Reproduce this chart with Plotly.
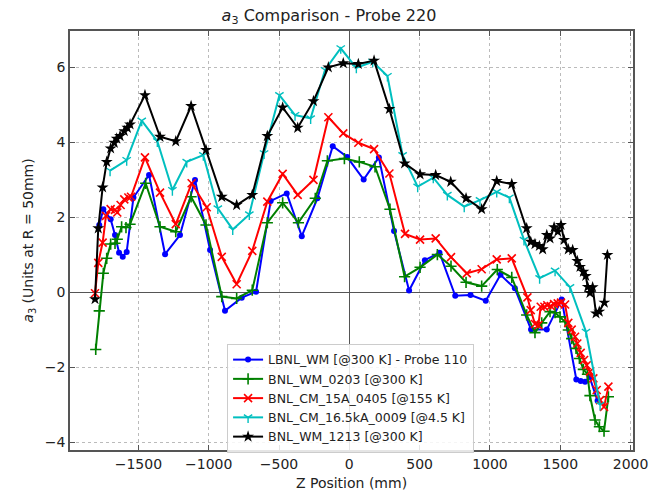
import plotly.graph_objects as go

# ---- data ----
blue_z = [-1778,-1749,-1697,-1666,-1637,-1611,-1583,-1535,-1424,-1310,-1204,-1097,-990,-884,-765,-663,-559,-445,-338,-227,-118,-15,102,210,318,425,537,641,753,862,970,1075,1177,1292,1404,1510,1614,1645,1676,1708,1765]
blue_a = [1.79,2.21,1.94,1.52,1.05,0.94,1.07,2.52,3.12,1.01,1.52,2.99,1.12,-0.50,-0.15,0.01,2.43,2.63,1.49,2.50,3.89,3.60,3.00,3.59,1.63,0.04,0.85,1.05,-0.10,-0.08,-0.23,0.46,0.10,-1.00,-1.00,-0.20,-2.33,-2.37,-2.39,-2.26,-2.90]

green_z = [-1803,-1778,-1749,-1725,-1697,-1666,-1650,-1619,-1588,-1559,-1448,-1346,-1234,-1125,-1019,-907,-801,-690,-583,-474,-362,-242,-156,-35,71,183,289,393,503,626,723,830,941,1052,1155,1261,1320,1368,1427,1463,1498,1534,1557,1581,1612,1636,1664,1693,1711,1747,1778,1811,1842]
green_a = [-1.53,-0.50,0.50,0.90,1.28,1.30,1.41,1.74,1.72,1.81,2.90,1.74,1.61,2.54,1.79,-0.12,-0.17,0.05,1.85,2.38,1.85,2.50,3.50,3.56,3.47,3.34,2.21,0.41,0.66,1.00,0.69,0.26,0.16,0.60,0.39,-0.61,-1.08,-0.82,-0.52,-0.55,-0.66,-0.79,-1.01,-1.24,-1.50,-1.77,-2.06,-2.19,-2.76,-3.41,-3.59,-3.71,-2.79]

red_z = [-1808,-1785,-1754,-1730,-1697,-1666,-1650,-1626,-1600,-1571,-1552,-1453,-1346,-1234,-1121,-1014,-907,-801,-690,-583,-474,-367,-255,-149,-43,64,176,285,396,503,614,723,835,941,1048,1155,1266,1290,1320,1344,1361,1387,1408,1432,1456,1482,1505,1534,1557,1581,1605,1621,1645,1669,1688,1711,1735,1759,1783,1811,1842]
red_a = [-0.03,0.78,1.32,2.03,2.21,2.19,2.12,2.32,2.47,2.52,2.54,3.59,2.65,1.81,2.90,2.26,0.94,0.21,1.10,2.41,3.15,2.59,2.99,4.66,4.23,3.98,3.81,3.16,1.55,1.40,1.43,0.93,0.50,0.61,0.87,0.90,-0.14,-0.48,-0.85,-0.88,-0.39,-0.39,-0.35,-0.37,-0.32,-0.30,-0.28,-0.33,-0.82,-1.00,-1.19,-1.37,-1.62,-1.81,-1.95,-2.12,-2.30,-2.61,-2.88,-3.06,-2.52]

cyan_z = [-1701,-1583,-1476,-1365,-1258,-1156,-1038,-935,-829,-711,-606,-497,-386,-275,-173,-61,50,166,271,379,486,597,697,817,929,1048,1138,1242,1353,1463,1569,1683,1783]
cyan_a = [3.24,3.52,4.57,4.02,2.72,3.47,3.65,2.23,1.67,2.07,3.70,5.25,4.72,4.63,5.92,6.50,5.98,6.14,5.76,3.65,2.81,3.05,2.59,2.28,2.45,2.67,2.52,1.39,0.37,0.57,0.13,-1.06,-3.01]

black_z = [-1808,-1785,-1754,-1725,-1697,-1671,-1654,-1630,-1600,-1578,-1559,-1453,-1346,-1234,-1125,-1019,-907,-801,-690,-583,-474,-367,-255,-149,-43,64,176,285,393,503,614,721,830,941,1048,1155,1261,1290,1320,1351,1375,1404,1427,1456,1482,1505,1527,1557,1588,1621,1640,1664,1681,1695,1711,1730,1754,1777,1813,1835]
black_a = [-0.19,1.70,2.79,3.47,3.83,3.98,4.09,4.16,4.29,4.38,4.47,5.25,4.14,4.02,4.96,3.79,2.54,2.32,2.59,4.16,4.92,4.38,5.09,5.99,6.10,6.08,6.17,4.88,3.43,3.14,3.12,2.94,2.50,2.21,2.96,2.88,1.70,1.34,1.28,1.23,1.14,1.52,1.43,1.73,1.61,1.79,1.39,1.14,1.12,0.83,0.67,0.54,0.43,0.14,-0.02,0.13,-0.57,-0.52,-0.28,0.99]

names = ["LBNL_WM [@300 K] - Probe 110", "BNL_WM_0203 [@300 K]", "BNL_CM_15A_0405 [@155 K]",
         "BNL_CM_16.5kA_0009 [@4.5 K]", "BNL_WM_1213 [@300 K]"]
x_ticks = [-1500, -1000, -500, 0, 500, 1000, 1500, 2000]
y_ticks = [-4, -2, 0, 2, 4, 6]

FONT = "DejaVu Sans"
fig = go.Figure()

series = [
    (blue_z, blue_a, "#0000ff", dict(symbol="circle", size=6, color="#0000ff")),
    (green_z, green_a, "#008000", dict(symbol="cross-thin", size=8, color="#008000",
                                        line=dict(width=1.6, color="#008000"))),
    (red_z, red_a, "#ff0000", dict(symbol="x-thin", size=8, color="#ff0000",
                                    line=dict(width=1.6, color="#ff0000"))),
    (cyan_z, cyan_a, "#00bfbf", dict(symbol="y-down", size=7, color="#00bfbf",
                                      line=dict(width=1.4, color="#00bfbf"))),
    (black_z, black_a, "#000000", dict(symbol="star", size=9, color="#000000",
                                        line=dict(width=0))),
]
for (zx, ya, col, mk), nm in zip(series, names):
    fig.add_trace(go.Scatter(x=zx, y=ya, mode="lines+markers", name=nm,
                             line=dict(color=col, width=2), marker=mk))

axis_common = dict(
    showline=True, linecolor="#555555", linewidth=1.5, mirror="ticks",
    ticks="inside", ticklen=5, tickcolor="#555555", tickwidth=1,
    showgrid=True, gridcolor="#bbbbbb", griddash="dot", gridwidth=1,
    zeroline=True, zerolinecolor="#555555", zerolinewidth=1.2,
    tickfont=dict(family=FONT, size=14, color="#222222"),
    automargin=False,
)

fig.update_layout(
    width=658, height=494,
    margin=dict(l=70, r=25, t=31, b=44),
    paper_bgcolor="white", plot_bgcolor="white",
    title=dict(text="<i>a</i><sub>3</sub> Comparison - Probe 220", x=0.5, xanchor="center",
               y=1 - 15 / 494, yanchor="middle", yref="container",
               font=dict(family=FONT, size=16, color="#222222")),
    xaxis=dict(range=[-1986, 2017], tickvals=x_ticks,
               title=dict(text="Z Position (mm)", standoff=8,
                          font=dict(family=FONT, size=14, color="#222222")),
               **axis_common),
    yaxis=dict(range=[-4.21, 6.96], tickvals=y_ticks,
               title=dict(text="<i>a</i><sub>3</sub> (Units at R = 50mm)", standoff=8,
                          font=dict(family=FONT, size=14, color="#222222")),
               **axis_common),
    legend=dict(x=0.279, y=0.253, xanchor="left", yanchor="top",
                bgcolor="rgba(255,255,255,0.85)", bordercolor="#cccccc", borderwidth=1,
                font=dict(family=FONT, size=12.5, color="#222222"),
                tracegroupgap=0, itemwidth=30),
    showlegend=True,
)

fig.write_html("out.html")
